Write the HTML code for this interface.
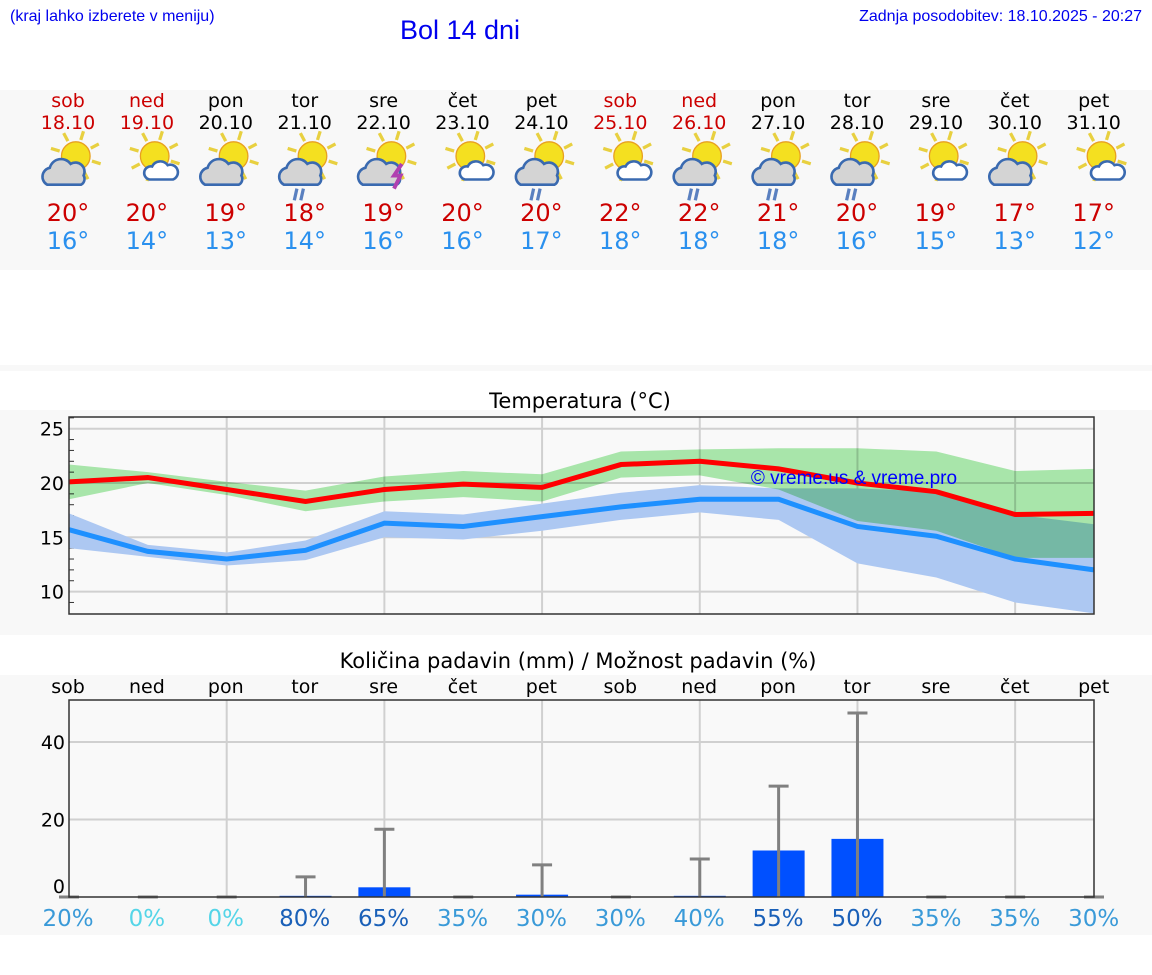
<!DOCTYPE html>
<html><head><meta charset="utf-8"><style>
body{margin:0;background:#fff;width:1152px;height:975px;overflow:hidden;font-family:"DejaVu Sans","Liberation Sans",sans-serif}
svg{display:block}
</style></head><body>
<svg id="page" width="1152" height="975" viewBox="0 0 1152 975" xmlns="http://www.w3.org/2000/svg">
<rect x="0" y="0" width="1152" height="975" fill="#fff"/>
<rect x="0" y="90" width="1152" height="180" fill="#f8f8f8"/>
<rect x="0" y="365" width="1152" height="6" fill="#f8f8f8"/>
<rect x="0" y="410" width="1152" height="225" fill="#f8f8f8"/>
<rect x="0" y="675" width="1152" height="260" fill="#f8f8f8"/>
<text x="10" y="21" font-family="Liberation Sans, sans-serif" font-size="16" fill="#0000ee">(kraj lahko izberete v meniju)</text>
<text x="460" y="39" text-anchor="middle" font-family="Liberation Sans, sans-serif" font-size="27" fill="#0000ee">Bol 14 dni</text>
<text x="1142" y="21" text-anchor="end" font-family="Liberation Sans, sans-serif" font-size="16" fill="#0000ee">Zadnja posodobitev: 18.10.2025 - 20:27</text>
<g id="days"></g>
<text x="580" y="408" text-anchor="middle" font-size="21" fill="#000">Temperatura (°C)</text>
<g id="temp"></g>
<text x="578" y="668" text-anchor="middle" font-size="21" fill="#000">Količina padavin (mm) / Možnost padavin (%)</text>
<g id="precip"></g>
<text x="854" y="484" text-anchor="middle" font-family="Liberation Sans, sans-serif" font-size="19" fill="#0000ff">© vreme.us &amp; vreme.pro</text>
</svg>
<script>
const dayNames=["sob","ned","pon","tor","sre","čet","pet","sob","ned","pon","tor","sre","čet","pet"];
const dates=["18.10","19.10","20.10","21.10","22.10","23.10","24.10","25.10","26.10","27.10","28.10","29.10","30.10","31.10"];
const weekend=[1,1,0,0,0,0,0,1,1,0,0,0,0,0];
const iconRain=[0,0,0,1,2,0,1,0,1,1,1,0,0,0];
const hiLabels=[20,20,19,18,19,20,20,22,22,21,20,19,17,17];
const loLabels=[16,14,13,14,16,16,17,18,18,18,16,15,13,12];
const tMax=[20.1,20.5,19.4,18.3,19.4,19.9,19.6,21.7,22.0,21.3,20.0,19.2,17.1,17.2];
const tMin=[15.7,13.7,13.0,13.8,16.3,16.0,16.9,17.8,18.5,18.5,16.0,15.1,13.0,12.0];
const maxHi=[21.7,21.0,20.1,19.3,20.6,21.1,20.8,22.9,23.1,23.2,23.2,22.9,21.1,21.3];
const maxLo=[18.5,20.0,18.9,17.4,18.3,18.7,18.3,20.5,20.7,19.4,16.5,15.6,13.1,13.1];
const minHi=[17.2,14.3,13.6,14.7,17.4,17.1,18.1,19.1,19.8,19.5,19.5,19.2,17.1,16.2];
const minLo=[14.0,13.2,12.4,12.9,15.0,14.8,15.6,16.6,17.3,16.6,12.6,11.3,9.0,8.0];
const tempTicks=[10,15,20,25];
const rain=[0,0,0,0.3,2.5,0,0.6,0,0.3,12.0,15.0,0,0,0];
const rainMax=[0,0,0,5.2,17.5,0,8.3,0,9.8,28.6,47.5,0,0,0];
const chance=[20,0,0,80,65,35,30,30,40,55,50,35,35,30];
const rainTicks=[0,20,40];
const NS="http://www.w3.org/2000/svg";
function mk(p,t,a,txt){const e=document.createElementNS(NS,t);for(const k in a)e.setAttribute(k,a[k]);if(txt!==undefined)e.textContent=txt;p.appendChild(e);return e;}
const X0=69,X1=1094,N=14;
const xd=i=>X0+i*(X1-X0)/(N-1);
const xi=i=>68+i*78.9;
const dg=document.getElementById('days');
for(let i=0;i<N;i++){
  const cx=xi(i),col=weekend[i]?"#cc0000":"#000";
  let t=mk(dg,'text',{x:cx,y:107,'text-anchor':'middle','font-size':19,fill:col},dayNames[i]);
  
  t=mk(dg,'text',{x:cx,y:129,'text-anchor':'middle','font-size':19,fill:col},dates[i]);
  
  const g=mk(dg,'g',{transform:`translate(${cx},160) scale(1.3) translate(${-cx},-160)`});
  
  const sx=cx+6,sy=157;
  for(let k=0;k<8;k++){const a=k*Math.PI/4+0.3;mk(g,'line',{x1:sx+Math.cos(a)*13,y1:sy+Math.sin(a)*13,x2:sx+Math.cos(a)*20,y2:sy+Math.sin(a)*20,stroke:'#e8d040','stroke-width':2.5});}
  mk(g,'circle',{cx:sx,cy:sy,r:11,fill:'#f4e020',stroke:'#e8a020','stroke-width':1});
  const big=(i%2==0||iconRain[i]==1);
  if(big){mk(g,'path',{d:`M${cx-16} ${sy+22} a7 7 0 0 1 2-13 a9 9 0 0 1 16-3 a7 7 0 0 1 10 9 a5 5 0 0 1 -2 7 z`,fill:'#d4d4d4',stroke:'#3a6ab0','stroke-width':2});}
  else{mk(g,'path',{d:`M${cx+2} ${sy+18} a5 5 0 0 1 2-10 a7 7 0 0 1 12-1 a5 5 0 0 1 4 11 z`,fill:'#fff',stroke:'#3a6ab0','stroke-width':2});}
  if(iconRain[i]==1){mk(g,'path',{d:`M${cx-6} ${sy+25} l-2 9 M${cx-1} ${sy+25} l-2 9`,stroke:'#5a80c0','stroke-width':2.5});}
  if(iconRain[i]==2){mk(g,'path',{d:`M${cx+14} ${sy+6} l-6 9 h5 l-5 10`,stroke:'#b040b0','stroke-width':3,fill:'none'});}
  t=mk(dg,'text',{x:cx,y:221,'text-anchor':'middle','font-size':24,fill:'#cc0000'},hiLabels[i]+'°');
  
  t=mk(dg,'text',{x:cx,y:249,'text-anchor':'middle','font-size':24,fill:'#2a90ee'},loLabels[i]+'°');
  
}
const tg=document.getElementById('temp');
const TY0=417,TY1=614;
const ty=v=>483-(v-20)*10.86;
mk(tg,'rect',{x:X0,y:TY0,width:X1-X0,height:TY1-TY0,fill:'#f9f9f9'});
for(const v of tempTicks){const l=mk(tg,'line',{x1:X0,x2:X1,y1:ty(v),y2:ty(v),stroke:'#d0d0d0','stroke-width':2});
  const t=mk(tg,'text',{x:X0-5,y:ty(v)+7,'text-anchor':'end','font-size':19,fill:'#000'},v);}
for(let v=9;v<=26;v++){if(v%5)mk(tg,'line',{x1:X0,x2:X0+5,y1:ty(v),y2:ty(v),stroke:'#333','stroke-width':1});}
for(let i=2;i<N;i+=2)mk(tg,'line',{x1:xd(i),x2:xd(i),y1:TY0,y2:TY1,stroke:'#d0d0d0','stroke-width':2});
function band(hi,lo,fill,name,blend){let d='';for(let i=0;i<N;i++)d+=(i?'L':'M')+xd(i)+' '+ty(hi[i]);for(let i=N-1;i>=0;i--)d+='L'+xd(i)+' '+ty(lo[i]);const p=mk(tg,'path',{d:d+'Z',fill:fill});if(blend)p.style.mixBlendMode='multiply';}
function line(v,col,name){const p=mk(tg,'polyline',{points:v.map((a,i)=>xd(i)+','+ty(a)).join(' '),fill:'none',stroke:col,'stroke-width':5});}
band(minHi,minLo,'#adc8f2','min-temp-range',false);
band(maxHi,maxLo,'#acebae','max-temp-range',true);
line(tMax,'#ff0000','max-temp-line');
line(tMin,'#1e90ff','min-temp-line');
mk(tg,'rect',{x:X0,y:TY0,width:X1-X0,height:TY1-TY0,fill:'none',stroke:'#333','stroke-width':1.5});
const pg=document.getElementById('precip');
const PY0=700,PY1=897;
const py=v=>897-v*3.875;
mk(pg,'rect',{x:X0,y:PY0,width:X1-X0,height:PY1-PY0,fill:'#f9f9f9'});
for(let i=0;i<N;i++){const t=mk(pg,'text',{x:xi(i),y:693,'text-anchor':'middle','font-size':19,fill:'#000'},dayNames[i]);}
for(const v of rainTicks){if(v>0){const l=mk(pg,'line',{x1:X0,x2:X1,y1:py(v),y2:py(v),stroke:'#d0d0d0','stroke-width':2});}
  const t=mk(pg,'text',{x:X0-4,y:py(v)+(v?7:-4),'text-anchor':'end','font-size':19,fill:'#000'},v);}
for(let i=2;i<N;i+=2)mk(pg,'line',{x1:xd(i),x2:xd(i),y1:PY0,y2:PY1,stroke:'#d0d0d0','stroke-width':2});
for(let i=0;i<N;i++){
  const b=mk(pg,'rect',{x:xd(i)-26,y:py(rain[i]),width:52,height:PY1-py(rain[i]),fill:'#0050ff'});
  
  const e=mk(pg,'path',{d:`M${xd(i)} ${PY1}V${py(rainMax[i])}M${xd(i)-10} ${py(rainMax[i])}h20`,stroke:'#808080','stroke-width':3,fill:'none'});
  
  const c=chance[i];const col=c==0?'#55d5e8':c>=50?'#1a60b8':'#3a9ad8';
  const t=mk(pg,'text',{x:xi(i),y:926,'text-anchor':'middle','font-size':23,fill:col},c+'%');
  
}
mk(pg,'rect',{x:X0,y:PY0,width:X1-X0,height:PY1-PY0,fill:'none',stroke:'#333','stroke-width':1.5});
</script>
</body></html>
